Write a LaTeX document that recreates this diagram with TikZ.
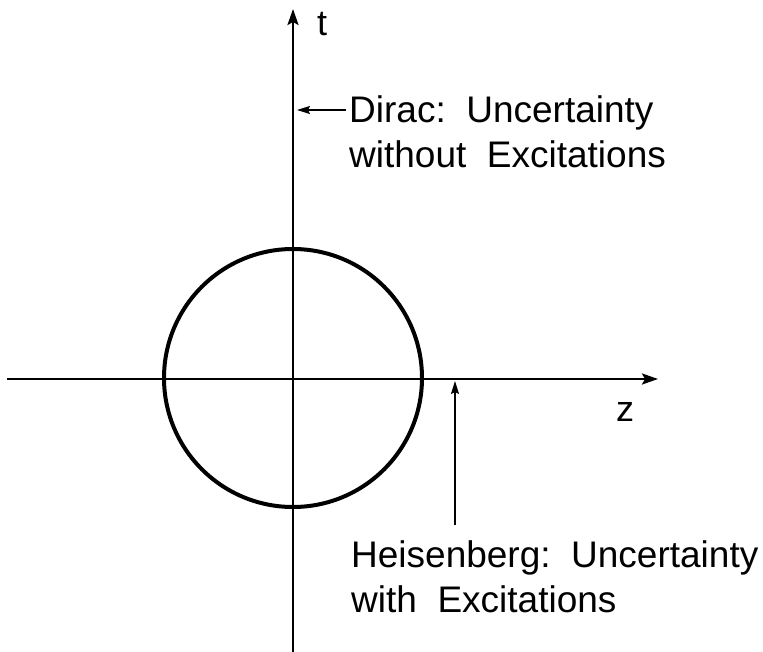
\documentclass[tikz,border=0pt]{standalone}
\usepackage{fontspec}
\setmainfont{Liberation Sans}
\usetikzlibrary{arrows.meta}
\begin{document}
\begin{tikzpicture}[x=1pt,y=-1pt,
  axis/.style={line width=2.4pt,-{Stealth[length=16pt,width=11pt,inset=3pt]}},
  pointer/.style={line width=1.5pt,-{Stealth[length=13pt,width=8pt,inset=2pt]}},
  lbl/.style={font=\fontsize{37}{45}\selectfont,anchor=base west,inner sep=0pt},
  axlbl/.style={font=\fontsize{36}{45}\selectfont,inner sep=0pt}]
\useasboundingbox (0,0) rectangle (763,652);
\coordinate (tbot) at (293,652);
\coordinate (ttop) at (293,9);
\coordinate (zleft) at (7,379);
\coordinate (zright) at (658,379);
\coordinate (o) at (293,378);
\draw[axis] (tbot) -- (ttop);
\draw[axis] (zleft) -- (zright);
\draw[line width=4pt] (o) circle (129);
\node[axlbl] (t) at (322,24) {t};
\node[axlbl] (z) at (625,412) {z};
\node[lbl] (d1) at (349,123) {Dirac:\ \ Uncertainty};
\node[lbl] (d2) at (349,168) {without\ \ Excitations};
\node[lbl] (h1) at (351,567) {Heisenberg:\ \ Uncertainty};
\node[lbl] (h2) at (351,612) {with\ \ Excitations};
\coordinate (dstart) at (346,110);
\coordinate (dend) at (297,110);
\coordinate (hstart) at (455,525);
\coordinate (hend) at (455,381);
\draw[pointer] (dstart) -- (dend);
\draw[pointer] (hstart) -- (hend);
\end{tikzpicture}
\end{document}
